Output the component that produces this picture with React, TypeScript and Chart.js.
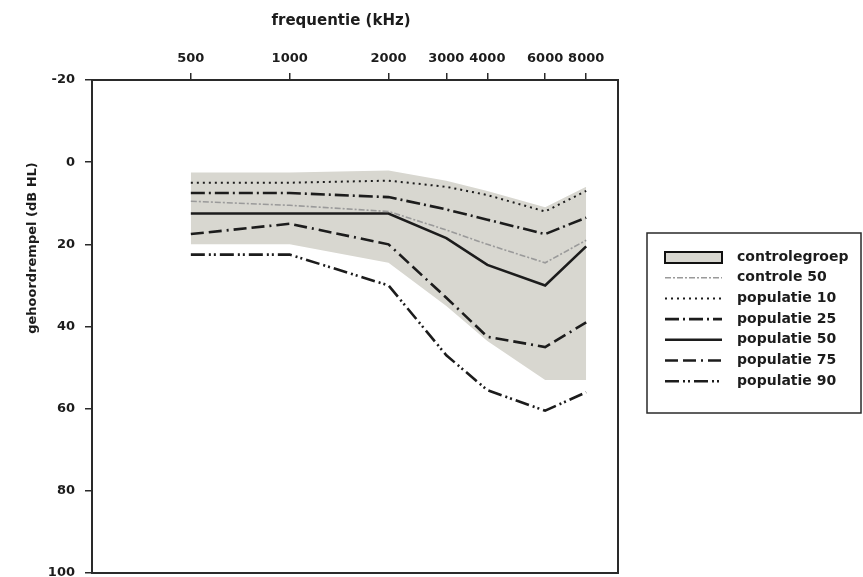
import React, { useEffect, useRef } from "react";
import { Chart, registerables } from "chart.js";

Chart.register(...registerables);

// ---- data ----
const frequencies = [500, 1000, 2000, 3000, 4000, 6000, 8000];
const xTickValues = [500, 1000, 2000, 3000, 4000, 6000, 8000];
const yTickValues = [-20, 0, 20, 40, 60, 80, 100];

const controlBandLow = [2.5, 2.5, 2, 4.5, 7, 11, 6];
const controlBandHigh = [20, 20, 24.5, 35, 43.5, 53, 53];
const controle50 = [9.5, 10.5, 12, 16.5, 20, 24.5, 19];
const populatie10 = [5, 5, 4.5, 6, 8, 12, 7];
const populatie25 = [7.5, 7.5, 8.5, 11.5, 14, 17.5, 13.5];
const populatie50 = [12.5, 12.5, 12.5, 18.5, 25, 30, 20.5];
const populatie75 = [17.5, 15, 20, 33, 42.5, 45, 39];
const populatie90 = [22.5, 22.5, 30, 47, 55.5, 60.5, 56];

const xTitle = "frequentie (kHz)";
const yTitle = "gehoordrempel (dB HL)";

const BAND_COLOR = "rgb(216,215,208)";
const INK = "#1c1c1c";
const FONT = "'DejaVu Sans', sans-serif";

const pts = (ys: number[]) => frequencies.map((f, i) => ({ x: f, y: ys[i] }));

const lineSeries = [
  { label: "controle 50", data: controle50, color: "#9a9a9a", width: 1.6, dash: [6, 2, 2, 2] },
  { label: "populatie 10", data: populatie10, color: INK, width: 2, dash: [2, 4] },
  { label: "populatie 25", data: populatie25, color: INK, width: 2.6, dash: [14, 4, 2, 4] },
  { label: "populatie 50", data: populatie50, color: INK, width: 2.6, dash: [] as number[] },
  { label: "populatie 75", data: populatie75, color: INK, width: 2.6, dash: [13, 5, 13, 5, 2, 5] },
  { label: "populatie 90", data: populatie90, color: INK, width: 2.6, dash: [14, 4, 2, 3, 2, 4] },
];

const framePlugin = {
  id: "frame",
  afterDraw(chart: any) {
    const { ctx, chartArea: a } = chart;
    ctx.save();
    ctx.strokeStyle = "#2a2a2a";
    ctx.lineWidth = 2;
    ctx.strokeRect(a.left, a.top, a.right - a.left, a.bottom - a.top);
    ctx.restore();
  },
};

const titlesPlugin = {
  id: "axisTitles",
  afterDraw(chart: any) {
    const { ctx } = chart;
    ctx.save();
    ctx.fillStyle = INK;
    ctx.textAlign = "center";
    ctx.textBaseline = "middle";
    ctx.font = `bold 15px ${FONT}`;
    ctx.fillText(xTitle, 341, 21);
    ctx.translate(33, 248);
    ctx.rotate(-Math.PI / 2);
    ctx.font = `bold 13px ${FONT}`;
    ctx.fillText(yTitle, 0, 0);
    ctx.restore();
  },
};

const legendPlugin = {
  id: "boxLegend",
  afterDraw(chart: any) {
    const { ctx } = chart;
    const ds = chart.data.datasets;
    const boxL = 647, boxT = 233, boxR = 861, boxB = 413;
    const sx0 = 665, sx1 = 722, tx = 737;
    const rowY0 = 257, rowH = 20.7;
    ctx.save();
    ctx.strokeStyle = "#2a2a2a";
    ctx.lineWidth = 1.5;
    ctx.strokeRect(boxL, boxT, boxR - boxL, boxB - boxT);
    const entries = ds.filter((d: any) => d.legendEntry);
    entries.forEach((d: any, i: number) => {
      const y = rowY0 + i * rowH;
      if (d.legendEntry === "band") {
        ctx.fillStyle = d.backgroundColor;
        ctx.fillRect(sx0, y - 5, sx1 - sx0, 11);
        ctx.setLineDash([]);
        ctx.strokeStyle = "#111";
        ctx.lineWidth = 2;
        ctx.strokeRect(sx0, y - 5, sx1 - sx0, 11);
      } else {
        ctx.strokeStyle = d.borderColor;
        ctx.lineWidth = d.borderWidth;
        ctx.setLineDash(d.borderDash || []);
        ctx.beginPath();
        ctx.moveTo(sx0, y);
        ctx.lineTo(sx1, y);
        ctx.stroke();
      }
      ctx.setLineDash([]);
      ctx.fillStyle = INK;
      ctx.font = `bold 14px ${FONT}`;
      ctx.textAlign = "left";
      ctx.textBaseline = "middle";
      ctx.fillText(d.label, tx, y);
    });
    ctx.restore();
  },
};

export default function App() {
  const canvasRef = useRef<HTMLCanvasElement | null>(null);

  useEffect(() => {
    if (!canvasRef.current) return;
    const datasets: any[] = [
      {
        label: "controlegroep-low",
        data: pts(controlBandLow),
        borderWidth: 0,
        pointRadius: 0,
        fill: false,
        backgroundColor: BAND_COLOR,
        borderColor: BAND_COLOR,
      },
      {
        label: "controlegroep",
        legendEntry: "band",
        data: pts(controlBandHigh),
        borderWidth: 0,
        pointRadius: 0,
        fill: "-1",
        backgroundColor: BAND_COLOR,
        borderColor: BAND_COLOR,
      },
      ...lineSeries.map((s) => ({
        label: s.label,
        legendEntry: "line",
        data: pts(s.data),
        borderColor: s.color,
        borderWidth: s.width,
        borderDash: s.dash,
        pointRadius: 0,
        fill: false,
        tension: 0,
      })),
    ];

    const zeroPad = (scale: any) => {
      scale.paddingTop = 0;
      scale.paddingBottom = 0;
      scale.paddingLeft = 0;
      scale.paddingRight = 0;
    };

    const chart = new Chart(canvasRef.current, {
      type: "line",
      data: { datasets },
      options: {
        animation: false,
        responsive: false,
        devicePixelRatio: 1,
        layout: { padding: { top: 0, left: 0, right: 245, bottom: 4 } },
        plugins: {
          legend: { display: false },
          tooltip: { enabled: false },
          filler: { drawTime: "beforeDatasetsDraw" },
        },
        scales: {
          x: {
            type: "logarithmic",
            position: "top",
            min: 250,
            max: 10000,
            afterBuildTicks: (scale: any) => {
              scale.ticks = xTickValues.map((v) => ({ value: v }));
            },
            afterFit: (scale: any) => {
              scale.height = 80;
              zeroPad(scale);
            },
            grid: { drawOnChartArea: false, drawTicks: true, tickLength: 7, color: "#2a2a2a", lineWidth: 1.5 },
            border: { display: false },
            ticks: {
              autoSkip: false,
              maxRotation: 0,
              padding: 7,
              color: INK,
              font: { family: FONT, size: 13, weight: "bold" },
              callback: (v: any) => String(v),
            },
            title: { display: false },
          },
          y: {
            type: "linear",
            reverse: true,
            min: -20,
            max: 100,
            afterBuildTicks: (scale: any) => {
              scale.ticks = yTickValues.map((v) => ({ value: v }));
            },
            afterFit: (scale: any) => {
              scale.width = 92;
              zeroPad(scale);
            },
            grid: { drawOnChartArea: false, drawTicks: true, tickLength: 7, color: "#2a2a2a", lineWidth: 1.5 },
            border: { display: false },
            ticks: {
              padding: 10,
              color: INK,
              font: { family: FONT, size: 13, weight: "bold" },
              callback: (v: any) => String(v),
            },
            title: { display: false },
          },
        },
      } as any,
      plugins: [framePlugin, titlesPlugin, legendPlugin],
    });
    return () => chart.destroy();
  }, []);

  return (
    <div style={{ position: "absolute", left: 0, top: 0, width: 863, height: 577, background: "#fff" }}>
      <canvas ref={canvasRef} width={863} height={577} style={{ width: 863, height: 577, display: "block" }} />
    </div>
  );
}
